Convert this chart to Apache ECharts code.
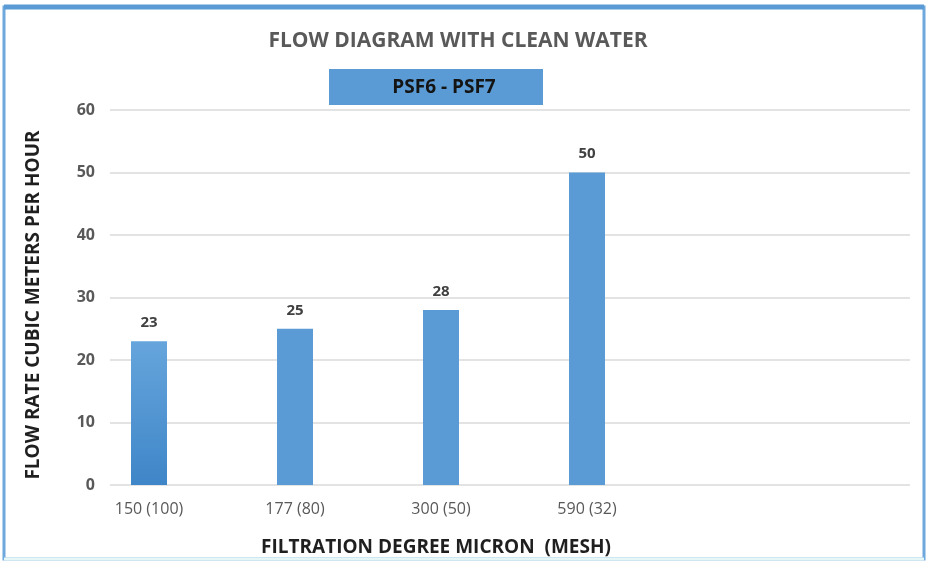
<!DOCTYPE html>
<html>
<head>
<meta charset="utf-8">
<script src="https://cdn.jsdelivr.net/npm/echarts@6/dist/echarts.min.js"></script>
<style>
  html, body { margin: 0; padding: 0; background: #ffffff; }
  #chart { width: 928px; height: 562px; }
</style>
</head>
<body>
<div id="chart"></div>
<script>
// Filtration degree in micron (mesh) and clean-water flow rate in m³/h
const categories = ['150 (100)', '177 (80)', '300 (50)', '590 (32)'];
const flowRates = [23, 25, 28, 50];
const seriesName = 'PSF6 - PSF7';
const yTicks = { min: 0, max: 60, interval: 10 };

const chart = echarts.init(document.getElementById('chart'));
const font = '"Open Sans", Lato, sans-serif';
const textGrey = '#595959';
const barBlue = '#5b9bd5';

const barData = flowRates.map((v, i) => i === 0 ? {
  value: v,
  itemStyle: {
    color: new echarts.graphic.LinearGradient(0, 0, 0, 1, [
      { offset: 0, color: '#66a5dc' },
      { offset: 1, color: '#3f86c8' }
    ])
  }
} : v);

chart.setOption({
  backgroundColor: '#ffffff',
  animation: false,
  title: {
    text: 'FLOW DIAGRAM WITH CLEAN WATER',
    left: 453,
    textAlign: 'center',
    top: 26,
    textStyle: { fontFamily: font, fontSize: 21, fontWeight: 'bold', color: textGrey }
  },
  grid: [
    // value-axis grid spanning the full gridline width
    { left: 110, right: 18, top: 110, bottom: 77, containLabel: false },
    // bar grid: four category slots of equal width
    { left: 76, width: 584, top: 110, bottom: 77, containLabel: false }
  ],
  xAxis: [
    { type: 'category', gridIndex: 0, data: categories, show: false },
    {
      type: 'category', gridIndex: 1, data: categories,
      axisLine: { show: false }, axisTick: { show: false },
      axisLabel: { margin: 16, fontFamily: font, fontSize: 16, color: textGrey }
    }
  ],
  yAxis: [
    {
      type: 'value', gridIndex: 0,
      min: yTicks.min, max: yTicks.max, interval: yTicks.interval,
      axisLine: { show: false }, axisTick: { show: false },
      axisLabel: { margin: 15, fontFamily: font, fontSize: 16, fontWeight: 'bold', color: textGrey },
      splitLine: { lineStyle: { color: '#e3e3e3', width: 2 } }
    },
    {
      type: 'value', gridIndex: 1,
      min: yTicks.min, max: yTicks.max, interval: yTicks.interval,
      show: false, splitLine: { show: false }
    }
  ],
  series: [{
    name: seriesName,
    type: 'bar',
    xAxisIndex: 1,
    yAxisIndex: 1,
    barWidth: 36,
    data: barData,
    itemStyle: { color: barBlue },
    label: {
      show: true, position: 'top', distance: 11,
      fontFamily: font, fontSize: 15, fontWeight: 'bold', color: '#404040'
    }
  }],
  graphic: [
    // outer frame
    { type: 'rect', shape: { x: 4, y: 7, width: 920, height: 552 },
      style: { fill: 'none', stroke: '#6fa8dc', lineWidth: 3 }, z: 0 },
    { type: 'line', shape: { x1: 4, y1: 7, x2: 924, y2: 7 },
      style: { stroke: '#5b9bd5', lineWidth: 5 }, z: 1 },
    { type: 'line', shape: { x1: 4, y1: 559, x2: 924, y2: 559 },
      style: { stroke: '#e6f7f7', lineWidth: 3 }, z: 1 },
    // series key box
    { type: 'rect', shape: { x: 329, y: 69, width: 214, height: 36 },
      style: { fill: barBlue }, z: 5 },
    { type: 'text', x: 444, y: 88,
      style: { text: seriesName, fontFamily: font, fontSize: 19, fontWeight: 'bold',
               fill: '#141414', align: 'center', verticalAlign: 'middle' }, z: 6 },
    // axis titles
    { type: 'text', x: 436, y: 548,
      style: { text: 'FILTRATION DEGREE MICRON  (MESH)', fontFamily: font, fontSize: 19,
               fontWeight: 'bold', fill: '#1f1f1f', align: 'center', verticalAlign: 'middle' } },
    { type: 'text', x: 34, y: 305, rotation: Math.PI / 2,
      style: { text: 'FLOW RATE CUBIC METERS PER HOUR', fontFamily: font, fontSize: 19,
               fontWeight: 'bold', fill: '#1f1f1f', align: 'center', verticalAlign: 'middle' } }
  ]
});
</script>
</body>
</html>
